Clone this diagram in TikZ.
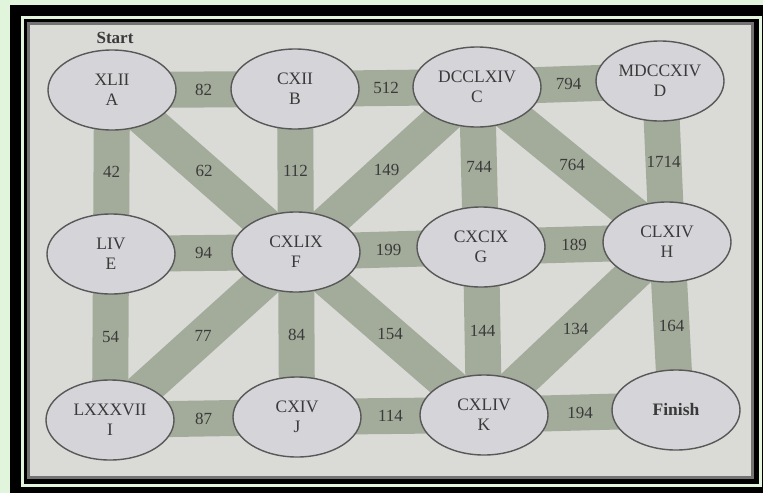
\documentclass[tikz,border=0pt]{standalone}
\usepackage{fontspec}
\setmainfont{Liberation Serif}
\usetikzlibrary{shapes.geometric,backgrounds}
\definecolor{mint}{RGB}{225,244,220}
\definecolor{paper}{RGB}{218,218,215}
\definecolor{citygray}{RGB}{212,212,217}
\definecolor{ringgray}{RGB}{88,88,88}
\definecolor{roadgreen}{RGB}{163,172,155}
\definecolor{inkgray}{RGB}{58,58,58}

\begin{document}
\begin{tikzpicture}[
            x = 1pt, y = -1pt, % pixel grid, y going down
            city/.style = {shape=ellipse, draw=ringgray, fill=citygray, line width=1.4pt,
                minimum width=128pt, minimum height=80pt, inner sep=0pt, align=center,
                text=inkgray, font=\fontsize{17.5}{20}\selectfont}, % town ovals
            road/.style = {draw=roadgreen, line width=36pt}, % wide bands
            cost/.style = {text=inkgray, font=\fontsize{17}{20}\selectfont}
        ]
\useasboundingbox (0,0) rectangle (763,493);
\node[city] (A) at (112,90) {XLII\\A};
\node[city] (B) at (295,89) {CXII\\B};
\node[city] (C) at (477,87) {DCCLXIV\\C};
\node[city] (D) at (660,81) {MDCCXIV\\D};
\node[city] (E) at (111,254) {LIV\\E};
\node[city] (F) at (296,252) {CXLIX\\F};
\node[city] (G) at (481,247) {CXCIX\\G};
\node[city] (H) at (667,242) {CLXIV\\H};
\node[city] (I) at (110,420) {LXXXVII\\I};
\node[city] (J) at (297,417) {CXIV\\J};
\node[city] (K) at (484,415) {CXLIV\\K};
\node[city, font=\fontsize{17.5}{20}\selectfont\bfseries] (Fin) at (676,410) {Finish};
\node[text=inkgray, font=\fontsize{17}{20}\selectfont\bfseries] (Start) at (115,38) {Start};

\begin{scope}[on background layer]
\fill[mint] (0,0) rectangle (763,493);
\fill[black] (10,5) rectangle (763,493);
\draw[mint, line width=3pt] (22.5,17.5) rectangle (760,485);
\fill[paper, draw=black!55, line width=3pt] (28.5,23.5) rectangle (752.5,477.5);

 \path [road] (A.center) edge node[cost] {82} (B.center);
 \path [road] (B.center) edge node[cost] {512} (C.center);
 \path [road] (C.center) edge node[cost] {794} (D.center);
 \path [road] (A.center) edge node[cost] {42} (E.center);
 \path [road] (A.center) edge node[cost] {62} (F.center);
 \path [road] (B.center) edge node[cost] {112} (F.center);
 \path [road] (C.center) edge node[cost] {149} (F.center);
 \path [road] (C.center) edge node[cost] {744} (G.center);
 \path [road] (C.center) edge node[cost] {764} (H.center);
 \path [road] (D.center) edge node[cost] {1714} (H.center);
 \path [road] (E.center) edge node[cost] {94} (F.center);
 \path [road] (F.center) edge node[cost] {199} (G.center);
 \path [road] (G.center) edge node[cost] {189} (H.center);
 \path [road] (E.center) edge node[cost] {54} (I.center);
 \path [road] (F.center) edge node[cost] {77} (I.center);
 \path [road] (F.center) edge node[cost] {84} (J.center);
 \path [road] (F.center) edge node[cost] {154} (K.center);
 \path [road] (G.center) edge node[cost] {144} (K.center);
 \path [road] (H.center) edge node[cost] {134} (K.center);
 \path [road] (H.center) edge node[cost] {164} (Fin.center);
 \path [road] (I.center) edge node[cost] {87} (J.center);
 \path [road] (J.center) edge node[cost] {114} (K.center);
 \path [road] (K.center) edge node[cost] {194} (Fin.center);
\end{scope}
\end{tikzpicture}
\end{document}
